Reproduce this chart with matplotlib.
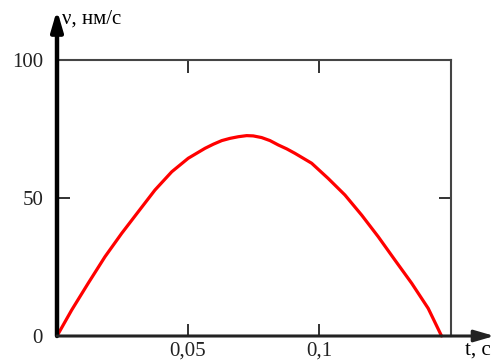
import matplotlib.pyplot as plt

plt.rcParams['font.family'] = ['Liberation Serif', 'DejaVu Serif']

# velocity curve
t = [0.0, 0.0056, 0.0119, 0.0183, 0.0247, 0.0310, 0.0374, 0.0438, 0.0501,
     0.0533, 0.0565, 0.0597, 0.0629, 0.0660, 0.0692, 0.0724, 0.0749, 0.0781,
     0.0813, 0.0845, 0.0877, 0.0908, 0.0940, 0.0972, 0.1035, 0.1099, 0.1163,
     0.1226, 0.1290, 0.1354, 0.1417, 0.1468]
v = [0.0, 9.4, 19.1, 28.7, 37.2, 45.0, 52.9, 59.5, 64.4,
     66.2, 68.0, 69.5, 70.8, 71.6, 72.2, 72.6, 72.5, 71.9,
     70.8, 69.2, 67.8, 66.2, 64.4, 62.6, 57.1, 51.1, 43.8,
     36.0, 27.5, 19.1, 10.0, 0.0]

xticks = [0.05, 0.1]
xticklabels = ['0,05', '0,1']
yticks = [0, 50, 100]
yticklabels = ['0', '50', '100']

fig = plt.figure(figsize=(4.91, 3.63), dpi=100)
ax = fig.add_axes([57 / 491, 27 / 363, 394 / 491, 276 / 363])

ax.plot(t, v, color='#ff0000', lw=2.3, solid_capstyle='round',
        solid_joinstyle='round', clip_on=False, zorder=3)

ax.set_xlim(0, 0.1504)
ax.set_ylim(0, 100)

ax.set_xticks(xticks)
ax.set_xticklabels(xticklabels)
ax.set_yticks(yticks)
ax.set_yticklabels(yticklabels)
ax.tick_params(direction='in', length=9, width=1.3, labelsize=15,
               top=True, right=True, colors='#222222')
ax.tick_params(axis='x', pad=4)
ax.tick_params(axis='y', pad=10)

for s in ['top', 'right']:
    ax.spines[s].set_color('#444444')
    ax.spines[s].set_linewidth(1.5)
ax.spines['left'].set_visible(False)
ax.spines['bottom'].set_visible(False)

# axes with arrows
ax.annotate('', xy=(0, (353 - 27) / 276), xytext=(0, 0), xycoords='axes fraction',
            arrowprops=dict(arrowstyle='-|>,head_length=1.2,head_width=0.35',
                            color='black', lw=3.2, shrinkA=0, shrinkB=0),
            annotation_clip=False, zorder=4)
ax.annotate('', xy=(1.11, 0), xytext=(0, 0), xycoords='axes fraction',
            arrowprops=dict(arrowstyle='-|>,head_length=1.2,head_width=0.35',
                            color='#222222', lw=2.2, shrinkA=0, shrinkB=0),
            annotation_clip=False, zorder=4)

fig.text(62 / 491, 1 - 19 / 363, 'ν, нм/с', fontsize=15, va='center', ha='left')
fig.text(465 / 491, 1 - 350 / 363, 't, c', fontsize=15, va='center', ha='left')

fig.savefig('out.png', dpi=100)
